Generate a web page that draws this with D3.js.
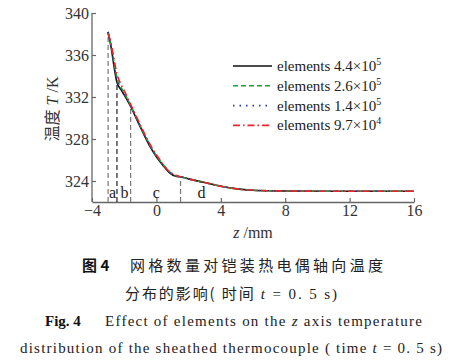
<body style="margin:0;background:#fff">
<script src="https://d3js.org/d3.v7.min.js"></script>
<script>
  // z positions (mm) and temperatures (K) for the four meshes
  var zVals = [-3, -2.8, -2.6, -2.45, -2.2, -2.0, -1.6, -1.2, -0.8, -0.4, 0, 0.4, 0.8, 1.2, 1.5, 2, 3, 4, 5, 6, 7, 8, 10, 12, 14, 16];
  var t44 = [338.2, 336.6, 334.6, 333.4, 332.7, 332.2, 331.1, 329.8, 328.5, 327.3, 326.3, 325.5, 324.8, 324.45, 324.4, 324.2, 323.85, 323.5, 323.25, 323.12, 323.07, 323.05, 323.03, 323.02, 323.02, 323.02];
  var t26 = [338.1, 336.8, 335.0, 333.8, 332.9, 332.4, 331.2, 329.9, 328.6, 327.4, 326.4, 325.6, 324.9, 324.5, 324.4, 324.2, 323.85, 323.5, 323.25, 323.12, 323.07, 323.05, 323.03, 323.02, 323.02, 323.02];
  var t14 = [338.2, 336.7, 334.8, 333.6, 332.8, 332.3, 331.15, 329.85, 328.55, 327.35, 326.35, 325.55, 324.85, 324.5, 324.4, 324.2, 323.85, 323.5, 323.25, 323.12, 323.07, 323.05, 323.03, 323.02, 323.02, 323.02];
  var t97 = [338.0, 337.0, 335.3, 334.2, 333.2, 332.6, 331.3, 330.0, 328.7, 327.5, 326.5, 325.6, 324.9, 324.55, 324.4, 324.2, 323.85, 323.5, 323.25, 323.12, 323.07, 323.05, 323.03, 323.02, 323.02, 323.02];

  var xTicks = [-4, 0, 4, 8, 12, 16];
  var yTicks = [324, 328, 332, 336, 340];
  var markerZ = [-3.0, -2.45, -1.6, 1.5];
  var markerColor = ['#777', '#222', '#777', '#777'];
  var regionLabels = ['a', 'b', 'c', 'd'];
  var regionZ = [-2.72, -1.98, 0, 2.8];

  var legendNames = ['4.4×10', '2.6×10', '1.4×10', '9.7×10'];
  var legendExp = ['5', '5', '5', '4'];
  var colors = ['#111', '#1e9e3c', '#2a3aa8', '#e8262b'];
  var dashes = [null, '5,3', '1.5,5', '7,3,1.5,3'];
  var series = [t44, t26, t14, t97];

  var svg = d3.select('body').append('svg')
    .attr('width', 467)
    .attr('height', 362);

  var x = d3.scaleLinear().domain([-4, 16]).range([92, 414]);
  var y = d3.scaleLinear().domain([322, 340]).range([202, 13]);

  var serif = '"Liberation Serif", "Times New Roman", serif';
  var cjk = '"Noto Sans CJK SC", sans-serif';

  // axes
  var xAxis = svg.append('g')
    .attr('transform', 'translate(0,' + y(322) + ')')
    .call(d3.axisBottom(x).tickValues(xTicks).tickSizeInner(-4).tickSizeOuter(0).tickPadding(3)
      .tickFormat(d => d < 0 ? '\u2212' + Math.abs(d) : d));
  var yAxis = svg.append('g')
    .attr('transform', 'translate(' + x(-4) + ',0)')
    .call(d3.axisLeft(y).tickValues(yTicks).tickSizeInner(-4).tickSizeOuter(0).tickPadding(3));

  [xAxis, yAxis].forEach(function(ax) {
    ax.select('.domain').attr('stroke', '#666').attr('stroke-width', 1.3);
    ax.selectAll('.tick line').attr('stroke', '#666').attr('stroke-width', 1.2);
    ax.selectAll('.tick text').attr('fill', '#333').style('font-family', serif).style('font-size', '16px');
  });
  // y axis extends to top tick
  yAxis.select('.domain').attr('d', 'M0,' + y(340) + 'V' + y(322));

  // marker lines up to the curve
  var interp = function(z) {
    var i = d3.bisectRight(zVals, z) - 1;
    i = Math.max(0, Math.min(i, zVals.length - 2));
    var f = (z - zVals[i]) / (zVals[i + 1] - zVals[i]);
    return t44[i] + f * (t44[i + 1] - t44[i]);
  };
  svg.append('g').selectAll('line')
    .data(markerZ)
    .join('line')
      .attr('x1', d => x(d)).attr('x2', d => x(d))
      .attr('y1', y(322)).attr('y2', d => y(interp(d)))
      .attr('stroke', (d, i) => markerColor[i])
      .attr('stroke-width', 1.2)
      .attr('stroke-dasharray', '5,3');

  svg.append('g').selectAll('text')
    .data(regionLabels)
    .join('text')
      .attr('x', (d, i) => x(regionZ[i]))
      .attr('y', 198)
      .attr('text-anchor', 'middle')
      .style('font-family', serif)
      .style('font-size', '16px')
      .attr('fill', '#222')
      .text(d => d);

  // curves
  var line = d3.line()
    .x((d, i) => x(zVals[i]))
    .y(d => y(d))
    .curve(d3.curveMonotoneX);

  svg.append('g').selectAll('path')
    .data(series)
    .join('path')
      .attr('d', d => line(d))
      .attr('fill', 'none')
      .attr('stroke', (d, i) => colors[i])
      .attr('stroke-width', 1.6)
      .attr('stroke-dasharray', (d, i) => dashes[i]);

  // legend
  var lg = svg.append('g').selectAll('g')
    .data(legendNames)
    .join('g')
      .attr('transform', (d, i) => 'translate(233,' + (66 + i * 19.8) + ')');
  lg.append('line')
    .attr('x1', 0).attr('x2', 39)
    .attr('stroke', (d, i) => colors[i])
    .attr('stroke-width', 1.6)
    .attr('stroke-dasharray', (d, i) => dashes[i]);
  var lt = lg.append('text')
    .attr('x', 44).attr('y', 5)
    .style('font-family', serif)
    .style('font-size', '15px')
    .attr('fill', '#222');
  lt.append('tspan').text(d => 'elements ' + d);
  lt.append('tspan').attr('dy', -6).style('font-size', '10px').text((d, i) => legendExp[i]);

  // axis titles
  var xt = svg.append('text')
    .attr('x', 253).attr('y', 238)
    .attr('text-anchor', 'middle')
    .style('font-family', serif).style('font-size', '16px').attr('fill', '#333');
  xt.append('tspan').style('font-style', 'italic').text('z');
  xt.append('tspan').text(' /mm');

  var yt = svg.append('text')
    .attr('transform', 'translate(58,109) rotate(-90)')
    .attr('text-anchor', 'middle')
    .style('font-size', '16px').attr('fill', '#333');
  yt.append('tspan').style('font-family', cjk).text('温度');
  yt.append('tspan').style('font-family', serif).style('font-style', 'italic').text(' T');
  yt.append('tspan').style('font-family', serif).text(' /K');

  // captions
  svg.append('text').attr('x', 82).attr('y', 271)
    .style('font-family', cjk).style('font-weight', 'bold').style('font-size', '15px').attr('fill', '#111')
    .text('图 4');
  svg.append('text').attr('x', 130).attr('y', 271)
    .attr('textLength', 253).attr('lengthAdjust', 'spacing')
    .style('font-family', cjk).style('font-size', '15px').attr('fill', '#222')
    .text('网格数量对铠装热电偶轴向温度');

  var c2 = svg.append('text').attr('x', 125).attr('y', 299)
    .attr('textLength', 212).attr('lengthAdjust', 'spacing')
    .style('font-size', '15px').attr('fill', '#222');
  c2.append('tspan').style('font-family', cjk).text('分布的影响( 时间 ');
  c2.append('tspan').style('font-family', serif).style('font-style', 'italic').text('t');
  c2.append('tspan').style('font-family', serif).text(' = 0. 5 s)');

  svg.append('text').attr('x', 45).attr('y', 326)
    .style('font-family', serif).style('font-weight', 'bold').style('font-size', '15px').attr('fill', '#111')
    .text('Fig. 4');
  var c3 = svg.append('text').attr('x', 105).attr('y', 326)
    .attr('textLength', 317).attr('lengthAdjust', 'spacing')
    .style('font-family', serif).style('font-size', '15px').attr('fill', '#222');
  c3.append('tspan').text('Effect of elements on the ');
  c3.append('tspan').style('font-style', 'italic').text('z');
  c3.append('tspan').text(' axis temperature');

  var c4 = svg.append('text').attr('x', 20).attr('y', 353)
    .attr('textLength', 422).attr('lengthAdjust', 'spacing')
    .style('font-family', serif).style('font-size', '15px').attr('fill', '#222');
  c4.append('tspan').text('distribution of the sheathed thermocouple ( time ');
  c4.append('tspan').style('font-style', 'italic').text('t');
  c4.append('tspan').text(' = 0. 5 s)');
</script>
</body>
